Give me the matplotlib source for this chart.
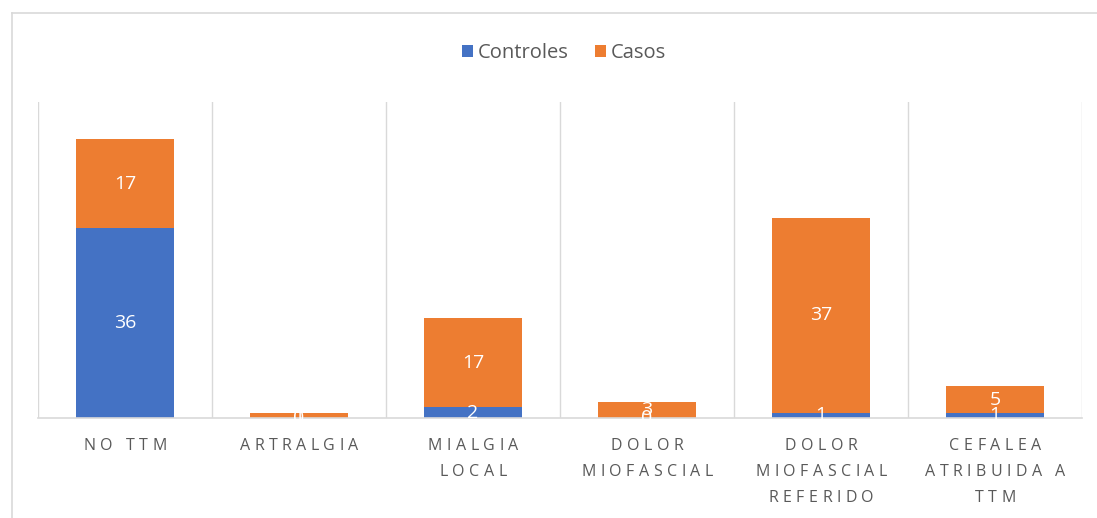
import numpy as np
import matplotlib
matplotlib.use('Agg')
import matplotlib.pyplot as plt
from matplotlib.lines import Line2D
from matplotlib.font_manager import FontProperties

FAMILIA = ['Open Sans', 'DejaVu Sans']
plt.rcParams['font.family'] = FAMILIA

# data
categorias = ['NO TTM', 'ARTRALGIA', 'MIALGIA\nLOCAL', 'DOLOR\nMIOFASCIAL',
              'DOLOR\nMIOFASCIAL\nREFERIDO', 'CEFALEA\nATRIBUIDA A\nTTM']
controles = [36, 0, 2, 0, 1, 1]
casos = [17, 1, 17, 3, 37, 5]

AZUL = '#4472C4'
NARANJA = '#ED7D31'
GRIS = '#D9D9D9'
TEXTO = '#595959'
DPI = 100

fig = plt.figure(figsize=(10.97, 5.18), dpi=DPI)
ax = fig.add_axes([38/1097, 100/518, 1044/1097, 316/518])

x = np.arange(len(categorias))
ax.bar(x, controles, width=0.56, color=AZUL, label='Controles', zorder=2)
ax.bar(x, casos, width=0.56, bottom=controles, color=NARANJA, label='Casos', zorder=2)

ax.set_xlim(-0.5, len(categorias) - 0.5)
ax.set_ylim(0, 60)
for s in ['top', 'left', 'right']:
    ax.spines[s].set_visible(False)
ax.spines['bottom'].set_color(GRIS)
ax.spines['bottom'].set_linewidth(1.2)
ax.set_xticks([])
ax.set_yticks([])
for b in np.arange(-0.5, len(categorias)):
    ax.axvline(b, color=GRIS, lw=1, zorder=1)

# data labels
for i in range(len(categorias)):
    ax.text(i, controles[i] / 2, str(controles[i]), ha='center', va='center',
            color='white', fontsize=14, zorder=3)
    ax.text(i, controles[i] + casos[i] / 2, str(casos[i]), ha='center', va='center',
            color='white', fontsize=14, zorder=3)

# letter-spaced category labels
fp = FontProperties(family=FAMILIA, size=11.5)
renderer = fig.canvas.get_renderer()
tracking = 4.5  # px between letters


def ancho(ch):
    w, h, d = renderer.get_text_width_height_descent(ch, fp, ismath=False)
    return w


for i, lab in enumerate(categorias):
    for j, linea in enumerate(lab.split('\n')):
        anchos = [ancho(c) for c in linea]
        total = sum(anchos) + tracking * (len(linea) - 1)
        xoff = -total / 2
        yoff = -(28 + 26 * j)
        for c, w in zip(linea, anchos):
            ax.annotate(c, xy=(i, 0), xycoords=('data', 'axes fraction'),
                        xytext=(xoff * 72 / DPI, yoff * 72 / DPI),
                        textcoords='offset points', ha='left', va='center',
                        fontproperties=fp, color=TEXTO, annotation_clip=False)
            xoff += w + tracking

fig.legend(loc='center', bbox_to_anchor=(564/1097, 1 - 53/518), ncol=2,
           frameon=False, handlelength=0.55, handleheight=0.55, handletextpad=0.25,
           columnspacing=1.3, prop=FontProperties(family=FAMILIA, size=14.5),
           labelcolor=TEXTO)

# outer chart border (left and top visible)
fig.add_artist(Line2D([12/1097, 12/1097], [0, 1 - 13/518], color=GRIS, lw=1.2,
                      transform=fig.transFigure))
fig.add_artist(Line2D([12/1097, 1], [1 - 13/518, 1 - 13/518], color=GRIS, lw=1.2,
                      transform=fig.transFigure))

fig.savefig('out.png', dpi=DPI)
